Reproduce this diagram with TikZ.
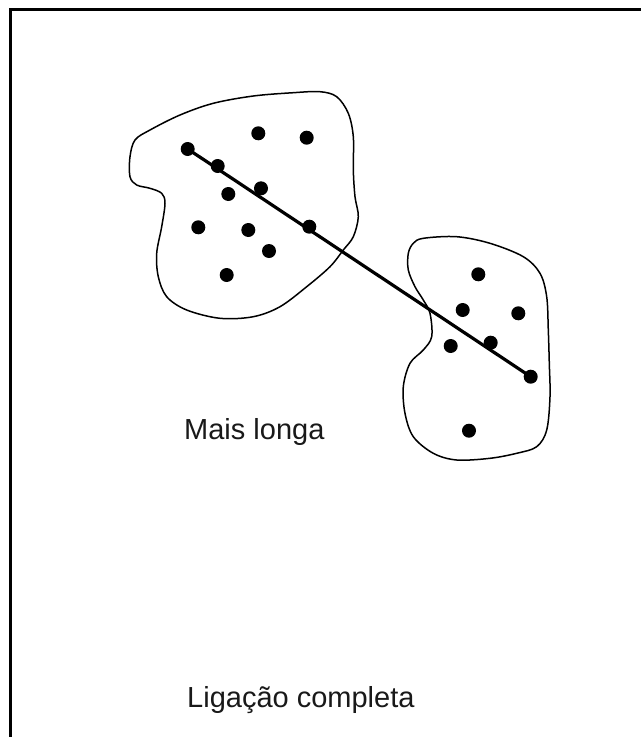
\documentclass[tikz,border=0pt]{standalone}
\usepackage{fontspec}
\setmainfont{Liberation Sans}
\begin{document}
\begin{tikzpicture}[x=1pt,y=-1pt,
  dot/.style={circle,fill=black,inner sep=0pt,minimum size=14pt},
  blob/.style={draw=black,line width=1.5pt},
  frame/.style={line width=3.2pt},
  label/.style={anchor=base west,inner sep=0pt,font=\fontsize{29}{34}\selectfont,text=black!90}]
\useasboundingbox (0,0) rectangle (641,737);
% frame (top and left only)
\draw[frame] (10.5,737) -- (10.5,9.7) -- (641,9.7);
% left cluster outline
\draw[blob] plot[smooth cycle, tension=0.55] coordinates {
 (320,91.7) (336.7,96.7) (348.3,113.3) (353.3,136.7) (353.3,170) (355,196.7)
 (358.3,216.7) (353.3,236.7) (343.3,250) (330,266.7) (306.7,286.7) (280,306.7)
 (253.3,316.7) (220,318.3) (186.7,310) (166.7,296.7) (158.3,276.7) (156.7,253.3)
 (161.7,226.7) (165,203.3) (161.7,193.3) (150,188.3) (136.7,185) (130,176.7)
 (130,156.7) (135,140) (150,130) (180,115) (213.3,103.3) (253.3,96) (293.3,92.7)};
% right cluster outline
\draw[blob] plot[smooth cycle, tension=0.55] coordinates {
 (423.3,238.3) (456.7,236.7) (490,243.3) (523.3,256.7) (540,273.3) (546.7,296.7)
 (548.3,330) (549.3,363.3) (550,396.7) (546.7,430) (536.7,446.7) (516.7,453.3)
 (490,458.3) (456.7,460) (433.3,453.3) (413.3,436.7) (405,413.3) (403.3,386.7)
 (410,363.3) (423.3,350) (431.7,336.7) (430,313.3) (423.3,300) (415,286.7)
 (408.3,270) (408.3,253.3) (413.3,243.3)};
% left cluster points
\node[dot] (a1) at (187.7,149) {};
\node[dot] (a2) at (258.3,133.3) {};
\node[dot] (a3) at (306.7,137.7) {};
\node[dot] (a4) at (217.7,166) {};
\node[dot] (a5) at (261,188.3) {};
\node[dot] (a6) at (228.3,194) {};
\node[dot] (a7) at (198.3,227.3) {};
\node[dot] (a8) at (248.3,230) {};
\node[dot] (a9) at (309.3,226.7) {};
\node[dot] (a10) at (269,251) {};
\node[dot] (a11) at (226.7,275) {};
% right cluster points
\node[dot] (b1) at (478.3,274.3) {};
\node[dot] (b2) at (462.7,310) {};
\node[dot] (b3) at (518.3,313.3) {};
\node[dot] (b4) at (450.7,346) {};
\node[dot] (b5) at (490.7,342.7) {};
\node[dot] (b6) at (530.7,376.7) {};
\node[dot] (b7) at (469,430.7) {};
% longest link
\draw[line width=3.2pt] (a1.center) -- (b6.center);
% labels
\node[label] (t1) at (184,439) {Mais longa};
\node[label] (t2) at (187,707.5) {Ligação completa};
\end{tikzpicture}
\end{document}
